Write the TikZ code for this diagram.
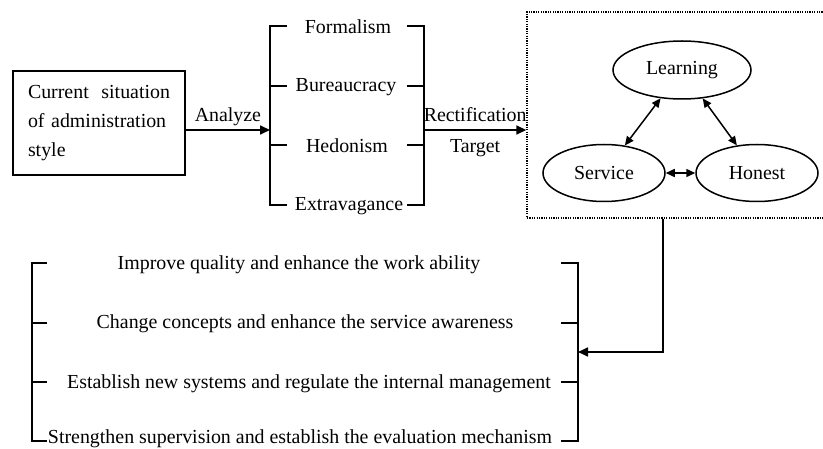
\documentclass[tikz,border=0pt]{standalone}
\usepackage{fontspec}
\setmainfont{Liberation Serif}
\usetikzlibrary{shapes.geometric,arrows.meta}

\begin{document}
\begin{tikzpicture}[x=1pt,y=-1pt,font=\fontsize{19.9}{29}\selectfont,
    line/.style={line width=1.7pt},
    arr/.style={line width=1.7pt,-{Triangle[length=10pt,width=9pt]}},
    dblarr/.style={line width=1.5pt,{Triangle[length=9pt,width=8pt]}-{Triangle[length=9pt,width=8pt]}},
    oval/.style={draw,ellipse,line width=1.5pt,minimum width=122pt,minimum height=57pt,inner sep=0pt}]
    \useasboundingbox (0,0) rectangle (823,449);

    % situation and its four problems
    \node[draw,line width=1.7pt,minimum width=172pt,minimum height=104pt,text width=142pt,align=left,inner sep=0pt] (cur) at (99,123) {Current\hfill situation\\of administration\\style};
    \coordinate (bl) at (270,130);
    \coordinate (rb) at (424,130);
    \draw[line] (287,26) -- (270,26) -- (270,205) -- (287,205);
    \draw[line] (407,26) -- (424,26) -- (424,205) -- (407,205);
    \foreach \y in {86,145} {
        \draw[line] (270,\y) -- (287,\y);
        \draw[line] (407,\y) -- (424,\y);
    }
    \node (formal) at (348,27) {Formalism};
    \node (bureau) at (346,87) {Bureaucracy};
    \node (hedon) at (347,146) {Hedonism};
    \node (extra) at (349,206) {Extravagance};
    \draw[arr] (cur.east |- bl) -- (bl) node[midway,anchor=base,yshift=8pt] {Analyze};

    % target
    \node[draw,line width=1.4pt,dash pattern=on 1.2pt off 1.2pt,minimum width=298pt,minimum height=206pt,inner sep=0pt] (tgt) at (676,115) {};
    \node[oval,minimum width=138pt,minimum height=58pt] (learn) at (682,70) {Learning};
    \node[oval] (serv) at (604,173) {Service};
    \node[oval] (hon) at (757,173) {Honest};
    \draw[dblarr] (learn) -- (serv);
    \draw[dblarr] (learn) -- (hon);
    \draw[dblarr] (serv) -- (hon);
    \draw[arr] (rb) -- (rb -| tgt.west)
        node[midway,anchor=base,yshift=8pt] {Rectification}
        node[midway,anchor=base,yshift=-23pt] {Target};

    % measures
    \coordinate (lrb) at (578,352);
    \draw[line] (47,263) -- (32,263) -- (32,441) -- (47,441);
    \draw[line] (561,263) -- (578,263) -- (578,441) -- (561,441);
    \foreach \y in {323,382} {
        \draw[line] (32,\y) -- (47,\y);
        \draw[line] (561,\y) -- (578,\y);
    }
    \node (m1) at (299,265) {Improve quality and enhance the work ability};
    \node (m2) at (305,324) {Change concepts and enhance the service awareness};
    \node (m3) at (309,384) {Establish new systems and regulate the internal management};
    \node (m4) at (300,439) {Strengthen supervision and establish the evaluation mechanism};
    \draw[arr] ([xshift=-13pt]tgt.south) |- (lrb);
\end{tikzpicture}
\end{document}
